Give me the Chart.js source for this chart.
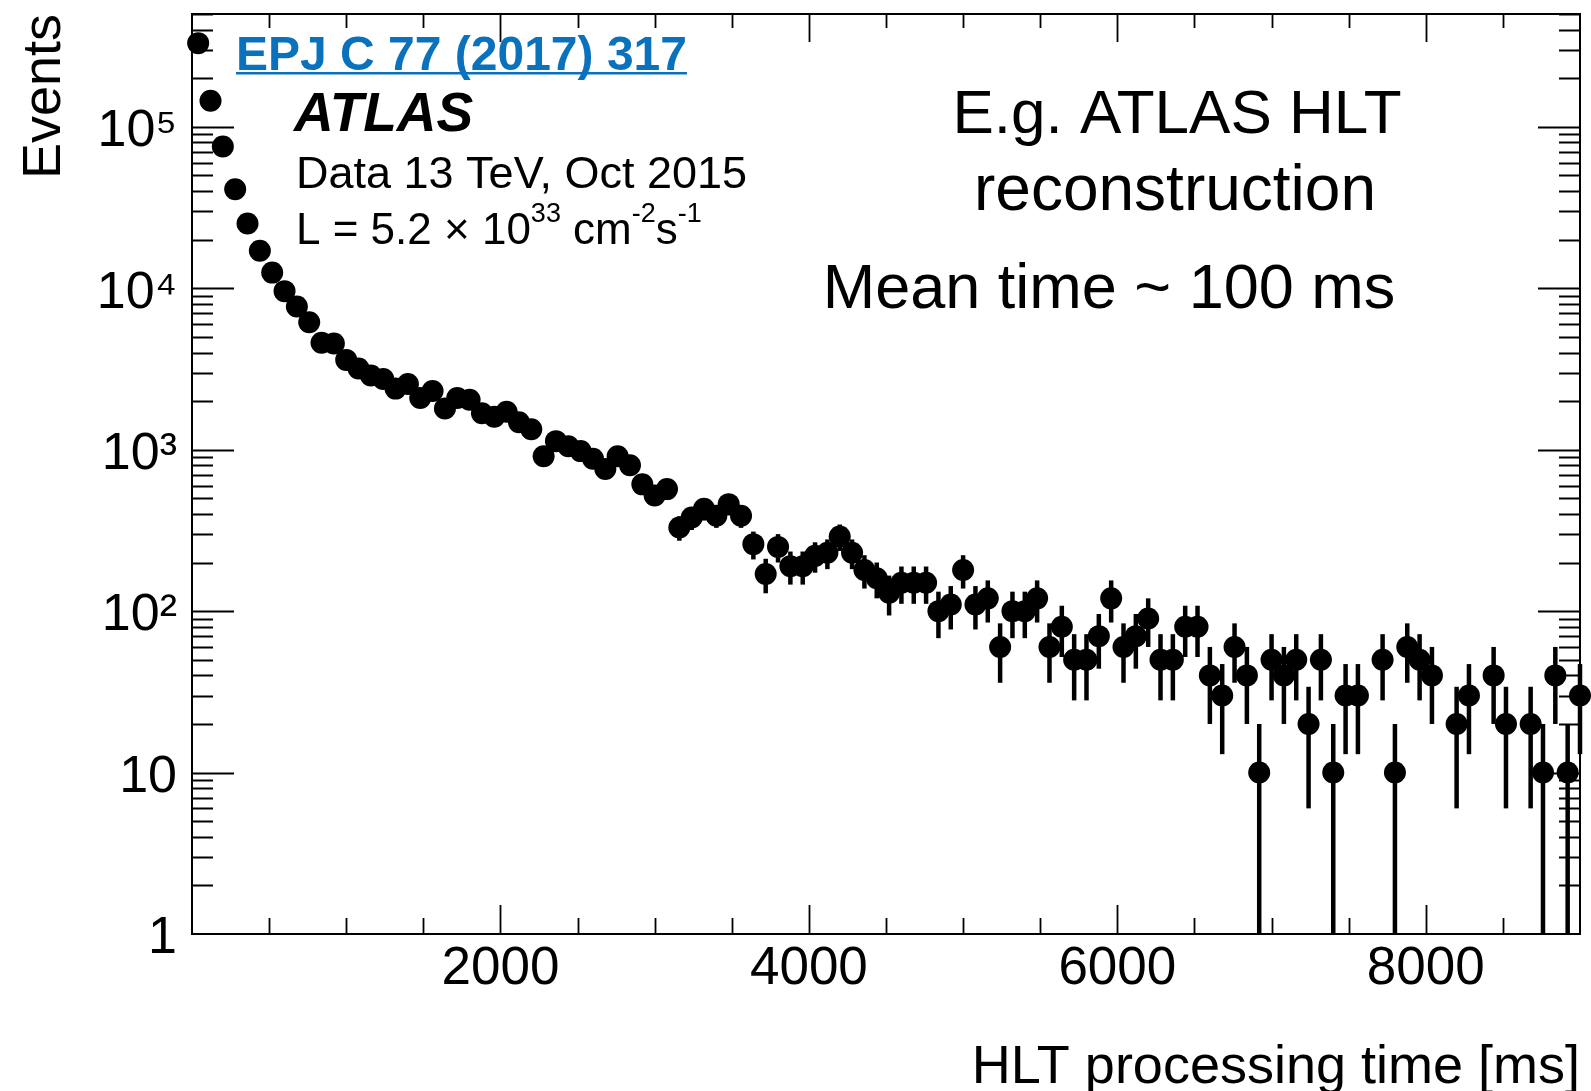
<!DOCTYPE html>
<html>
<head>
<meta charset="utf-8">
<script src="https://cdn.jsdelivr.net/npm/chart.js@4.4.0/dist/chart.umd.min.js"></script>
<style>
html,body{margin:0;padding:0;background:#fff;overflow:hidden}
#wrap{width:1591px;height:1091px;position:relative}
</style>
</head>
<body>
<div id="wrap"><canvas id="c" width="1591" height="1091"></canvas></div>
<script>
// ---- data (bin centres in ms, events per bin, Poisson-style uncertainty) ----
const binCenters = [
  40,120,200,280,360,440,520,600,680,760,
  840,920,1000,1080,1160,1240,1320,1400,1480,1560,
  1640,1720,1800,1880,1960,2040,2120,2200,2280,2360,
  2440,2520,2600,2680,2760,2840,2920,3000,3080,3160,
  3240,3320,3400,3480,3560,3640,3720,3800,3880,3960,
  4040,4120,4200,4280,4360,4440,4520,4600,4680,4760,
  4840,4920,5000,5080,5160,5240,5320,5400,5480,5560,
  5640,5720,5800,5880,5960,6040,6120,6200,6280,6360,
  6440,6520,6600,6680,6760,6840,6920,7000,7080,7160,
  7240,7320,7400,7480,7560,7720,7800,7880,7960,8040,
  8200,8280,8440,8520,8680,8760,8840,8920,9000
];
const events = [
  330000,145000,75500,41000,25200,17100,12500,9600,7700,6160,
  4600,4550,3600,3180,2880,2740,2390,2550,2090,2310,
  1800,2090,2040,1680,1600,1720,1480,1340,910,1130,
  1050,980,880,760,910,800,610,520,570,330,
  380,430,390,460,390,260,170,250,190,190,
  220,230,290,230,180,160,130,150,150,150,
  100,110,180,110,120,60,100,100,120,60,
  80,50,50,70,120,60,70,90,50,50,
  80,80,40,30,60,40,10,50,40,50,
  20,50,10,30,30,50,10,60,50,40,
  20,30,40,20,20,10,40,10,30
];
const eventErrors = [
  1817,1204,869,640,502,414,354,310,277,248,
  214,213,190,178,170,166,155,160,145,152,
  134,145,143,130,126,131,122,116,95,106,
  102,99,94,87,95,89,78,72,75,57,
  62,66,62,68,62,51,41,50,44,44,
  47,48,54,48,42,40,36,39,39,39,
  32,33,42,33,35,24,32,32,35,24,
  28,22,22,26,35,24,26,30,22,22,
  28,28,20,17,24,20,10,22,20,22,
  14,22,10,17,17,22,10,24,22,20,
  14,17,20,14,14,10,20,10,17
];
const xTickValues = [2000, 4000, 6000, 8000];
const yTickValues = [1, 10, 100, 1000, 10000, 100000];
const yTickLabels = ['1', '10', '10²', '10³', '10⁴', '10⁵'];

const FONT = '"Liberation Sans", Arial, Helvetica, sans-serif';
Chart.defaults.font.family = FONT;
Chart.defaults.color = '#000';

const errorBars = {
  id: 'errorBars',
  beforeDatasetsDraw(chart) {
    const {ctx, chartArea: a, scales: {x, y}} = chart;
    ctx.save();
    ctx.strokeStyle = '#000';
    ctx.lineWidth = 4.5;
    ctx.lineCap = 'butt';
    binCenters.forEach((b, i) => {
      const v = events[i], e = eventErrors[i];
      const px = x.getPixelForValue(b);
      const lo = v - e;
      const pyLo = lo > y.min ? y.getPixelForValue(lo) : a.bottom;
      const pyHi = Math.max(y.getPixelForValue(v + e), a.top);
      ctx.beginPath();
      ctx.moveTo(px, pyLo);
      ctx.lineTo(px, pyHi);
      ctx.stroke();
    });
    ctx.restore();
  }
};

const frame = {
  id: 'frame',
  afterDatasetsDraw(chart) {
    const {ctx, chartArea: a, scales: {x, y}} = chart;
    ctx.save();
    ctx.strokeStyle = '#000';
    ctx.lineWidth = 2;
    ctx.strokeRect(a.left, a.top, a.right - a.left, a.bottom - a.top);
    ctx.lineWidth = 1.8;
    ctx.beginPath();
    for (let v = 500; v < x.max; v += 500) {
      const px = Math.round(x.getPixelForValue(v)) + 0.5;
      const major = v % 2000 === 0;
      ctx.moveTo(px, a.bottom); ctx.lineTo(px, a.bottom - (major ? 29 : 16));
      ctx.moveTo(px, a.top); ctx.lineTo(px, a.top + (major ? 28 : 14));
    }
    for (let d = 1; d <= 100000; d *= 10) {
      for (let m = 1; m <= 9; m++) {
        const v = m * d;
        if (v <= 1 || v > y.max) continue;
        const py = Math.round(y.getPixelForValue(v)) + 0.5;
        const len = m === 1 ? 42 : 21;
        ctx.moveTo(a.left, py); ctx.lineTo(a.left + len, py);
        ctx.moveTo(a.right, py); ctx.lineTo(a.right - len, py);
      }
    }
    ctx.stroke();
    ctx.restore();
  }
};

const annotations = {
  id: 'annotations',
  afterDraw(chart) {
    const ctx = chart.ctx;
    ctx.save();
    ctx.textBaseline = 'alphabetic';
    ctx.textAlign = 'left';
    // reference link
    ctx.fillStyle = '#0a72bd';
    ctx.font = 'bold 48px ' + FONT;
    const ref = 'EPJ C 77 (2017) 317';
    ctx.fillText(ref, 236, 70);
    const rw = ctx.measureText(ref).width;
    ctx.fillRect(236, 72, rw, 2.5);
    // ATLAS label
    ctx.fillStyle = '#000';
    ctx.font = 'italic bold 55px ' + FONT;
    ctx.fillText('ATLAS', 294, 131);
    ctx.font = '45px ' + FONT;
    ctx.fillText('Data 13 TeV, Oct 2015', 296, 188);
    // luminosity line with superscripts
    const base = 244, supBase = 222;
    let cx = 296;
    const seg = (t, sup) => {
      ctx.font = (sup ? '27px ' : '44px ') + FONT;
      ctx.fillText(t, cx, sup ? supBase : base);
      cx += ctx.measureText(t).width;
    };
    seg('L = 5.2 × 10', false);
    seg('33', true);
    seg(' cm', false);
    seg('-2', true);
    seg('s', false);
    seg('-1', true);
    // slide annotation
    ctx.textAlign = 'center';
    ctx.font = '62px ' + FONT;
    ctx.fillText('E.g. ATLAS HLT', 1177, 133);
    ctx.font = '64px ' + FONT;
    ctx.fillText('reconstruction', 1175, 210);
    ctx.font = '63px ' + FONT;
    ctx.fillText('Mean time ~ 100 ms', 1109, 308);
    ctx.restore();
  }
};

const noEdgePadding = s => { s.paddingTop = 0; s.paddingBottom = 0; s.paddingLeft = 0; s.paddingRight = 0; };

new Chart(document.getElementById('c'), {
  type: 'scatter',
  data: {
    datasets: [{
      data: binCenters.map((b, i) => ({x: b, y: events[i]})),
      pointRadius: 11,
      pointHoverRadius: 11,
      pointBackgroundColor: '#000',
      pointBorderColor: '#000',
      pointBorderWidth: 0,
      showLine: false,
      clip: false
    }]
  },
  options: {
    responsive: false,
    animation: false,
    devicePixelRatio: 1,
    events: [],
    layout: {padding: {left: 0, right: 8, top: 14, bottom: 0}},
    plugins: {legend: {display: false}, tooltip: {enabled: false}},
    scales: {
      x: {
        type: 'linear',
        min: 0, max: 9000,
        afterBuildTicks: s => { s.ticks = xTickValues.map(v => ({value: v})); },
        afterFit: s => { s.height = 157; noEdgePadding(s); },
        grid: {display: false, drawTicks: false},
        border: {display: false},
        ticks: {font: {size: 53}, color: '#000', padding: 4, maxRotation: 0, autoSkip: false,
                callback: v => String(v)},
        title: {display: true, text: 'HLT processing time [ms]', align: 'end', color: '#000',
                font: {size: 54, lineHeight: 1}, padding: {top: 0, bottom: -4}}
      },
      y: {
        type: 'logarithmic',
        min: 1, max: 500000,
        afterBuildTicks: s => { s.ticks = yTickValues.map(v => ({value: v, major: true})); },
        afterFit: s => { s.width = 192; noEdgePadding(s); },
        grid: {display: false, drawTicks: false},
        border: {display: false},
        ticks: {
          font: {size: 52}, color: '#000', padding: 15, labelOffset: 5, autoSkip: false,
          callback: v => { const i = yTickValues.indexOf(v); return i >= 0 ? yTickLabels[i] : ''; }
        },
        title: {display: true, text: 'Events', align: 'end', color: '#000',
                font: {size: 54, lineHeight: 1}, padding: {top: 18, bottom: 0}}
      }
    }
  },
  plugins: [errorBars, frame, annotations]
});
</script>
</body>
</html>
